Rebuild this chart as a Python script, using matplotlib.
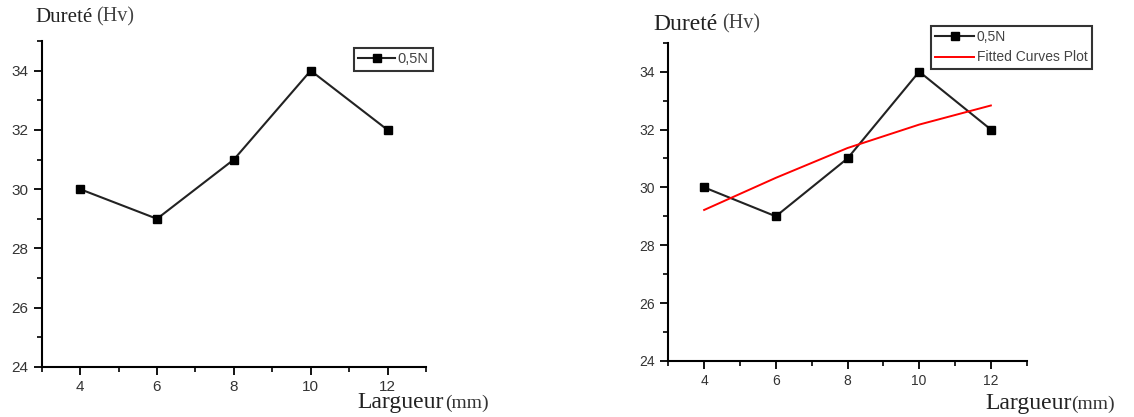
import matplotlib.pyplot as plt
from matplotlib.ticker import MultipleLocator

# Données
largeur = [4, 6, 8, 10, 12]
durete = [30, 29, 31, 34, 32]
fit_x = [4, 6, 8, 10, 12]
fit_y = [29.22, 30.33, 31.36, 32.17, 32.83]

W, H = 1134, 417
fig = plt.figure(figsize=(W / 100, H / 100), dpi=100)


def px_axes(l, r, t, b):
    return fig.add_axes([l / W, 1 - b / H, (r - l) / W, (b - t) / H])


def style_axes(ax, tick_size):
    ax.set_xlim(3, 13)
    ax.set_ylim(24, 35)
    ax.spines['top'].set_visible(False)
    ax.spines['right'].set_visible(False)
    for s in ['left', 'bottom']:
        ax.spines[s].set_linewidth(1.5)
    ax.xaxis.set_major_locator(MultipleLocator(2))
    ax.xaxis.set_minor_locator(MultipleLocator(1))
    ax.yaxis.set_major_locator(MultipleLocator(2))
    ax.yaxis.set_minor_locator(MultipleLocator(1))
    ax.set_xticks([4, 6, 8, 10, 12])
    ax.tick_params(which='major', direction='out', length=6, width=1.3,
                   labelsize=tick_size, labelcolor='#333333')
    ax.tick_params(which='minor', direction='out', length=3.5, width=1.2)
    for lab in ax.get_xticklabels() + ax.get_yticklabels():
        lab.set_family('Liberation Sans')


# Graphique de gauche
ax1 = px_axes(41.7, 426, 41, 367)
style_axes(ax1, 11)
ax1.plot(largeur, durete, color='#222222', lw=1.5, marker='s', ms=6,
         mfc='black', mec='black', label='0,5N')
leg1 = ax1.legend(loc='upper left', bbox_to_anchor=(354 / W, 1 - 48 / H),
                  bbox_transform=fig.transFigure, borderaxespad=0,
                  fancybox=False, edgecolor='black', handlelength=2.5,
                  handletextpad=0.2, borderpad=0.3,
                  prop={'family': 'Liberation Sans', 'size': 10.5})
leg1.get_frame().set_linewidth(1.5)
leg1.get_texts()[0].set_color('#444444')

# Graphique de droite
ax2 = px_axes(668.3, 1026.7, 42.7, 361)
style_axes(ax2, 10)
ax2.plot(largeur, durete, color='#222222', lw=1.5, marker='s', ms=6,
         mfc='black', mec='black', label='0,5N')
ax2.plot(fit_x, fit_y, color='red', lw=1.4, label='Fitted Curves Plot')
leg2 = ax2.legend(loc='upper left', bbox_to_anchor=(931 / W, 1 - 26 / H),
                  bbox_transform=fig.transFigure, borderaxespad=0,
                  fancybox=False, edgecolor='black', handlelength=2.8,
                  handletextpad=0.2, borderpad=0.3, labelspacing=0.45,
                  prop={'family': 'Liberation Sans', 'size': 10})
leg2.get_frame().set_linewidth(1.5)
for t in leg2.get_texts():
    t.set_color('#444444')

# Titres des axes
serif = 'Liberation Serif'
for x0, x1, y, fs in [(35, 96, 17, 15), (653, 722, 24, 17)]:
    fig.text(x0 / W, 1 - y / H, 'Dureté', family=serif, fontsize=fs,
             va='center', ha='left', color='#222222')
    fig.text(x1 / W, 1 - y / H, '(Hv)', family=serif, fontsize=14.5,
             va='center', ha='left', color='#444444')

for x0, x1, y in [(357, 445, 408), (985, 1071, 409)]:
    fig.text(x0 / W, 1 - y / H, 'Largueur', family=serif, fontsize=17,
             va='baseline', ha='left', color='#222222')
    fig.text(x1 / W, 1 - y / H, '(mm)', family=serif, fontsize=14,
             va='baseline', ha='left', color='#333333')

plt.savefig('out.png', dpi=100)
